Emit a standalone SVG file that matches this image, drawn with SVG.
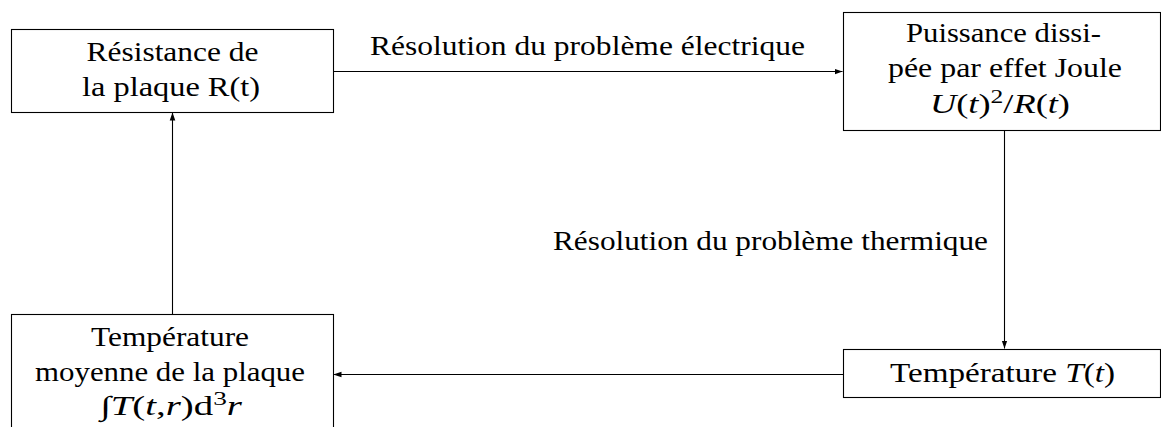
<svg xmlns="http://www.w3.org/2000/svg" width="1161" height="427" viewBox="0 0 1161 427">
<defs>
<style>
.box{fill:#fff;stroke:#000;stroke-width:1.1}
.edge{fill:none;stroke:#000;stroke-width:1.1}
text{font-family:"Liberation Serif","Times New Roman",serif;font-size:27px;fill:#000;text-anchor:middle}
.m{font-style:italic}
</style>
<marker id="arr" viewBox="0 0 10 10" refX="10" refY="5" markerWidth="8" markerHeight="8" markerUnits="userSpaceOnUse" orient="auto">
<path d="M0,1.5 L10,5 L0,8.5 z" fill="#000"/>
</marker>
</defs>
<rect width="1161" height="427" fill="#fff"/>
<g id="connectors">
<path class="edge" d="M333,71.5 H842.5" marker-end="url(#arr)"/>
<path class="edge" d="M1004.5,130 V348.5" marker-end="url(#arr)"/>
<path class="edge" d="M843,374.5 H333.5" marker-end="url(#arr)"/>
<path class="edge" d="M172.5,314 V112.5" marker-end="url(#arr)"/>
<text x="587.5" y="55" textLength="435" lengthAdjust="spacingAndGlyphs">Résolution du problème électrique</text>
<text x="770.5" y="250" textLength="435" lengthAdjust="spacingAndGlyphs">Résolution du problème thermique</text>
</g>
<g id="n1">
<rect class="box" x="11.5" y="29.5" width="322" height="83"/>
<text x="172.5" y="61" textLength="172" lengthAdjust="spacingAndGlyphs">Résistance de</text>
<text x="171" y="96" textLength="178" lengthAdjust="spacingAndGlyphs">la plaque R(t)</text>
</g>
<g id="n2">
<rect class="box" x="843.5" y="12.5" width="317" height="118"/>
<text x="1003.5" y="42" textLength="195" lengthAdjust="spacingAndGlyphs">Puissance dissi-</text>
<text x="1005" y="77" textLength="234" lengthAdjust="spacingAndGlyphs">pée par effet Joule</text>
<text x="1000" y="113" textLength="140" lengthAdjust="spacingAndGlyphs"><tspan class="m">U</tspan>(<tspan class="m">t</tspan>)<tspan font-size="19" dy="-10">2</tspan><tspan dy="10">/</tspan><tspan class="m">R</tspan>(<tspan class="m">t</tspan>)</text>
</g>
<g id="n3">
<rect class="box" x="11.5" y="314.5" width="322" height="130"/>
<text x="170" y="346" textLength="158" lengthAdjust="spacingAndGlyphs">Température</text>
<text x="170" y="381" textLength="270" lengthAdjust="spacingAndGlyphs">moyenne de la plaque</text>
<text x="171" y="415" textLength="142" lengthAdjust="spacingAndGlyphs">∫<tspan class="m">T</tspan>(<tspan class="m">t</tspan>,<tspan class="m">r</tspan>)d<tspan font-size="19" dy="-10">3</tspan><tspan class="m" dy="10">r</tspan></text>
</g>
<g id="n4">
<rect class="box" x="843.5" y="349.5" width="317" height="48"/>
<text x="1002.5" y="382" textLength="225" lengthAdjust="spacingAndGlyphs">Température <tspan class="m">T</tspan>(<tspan class="m">t</tspan>)</text>
</g>
</svg>
